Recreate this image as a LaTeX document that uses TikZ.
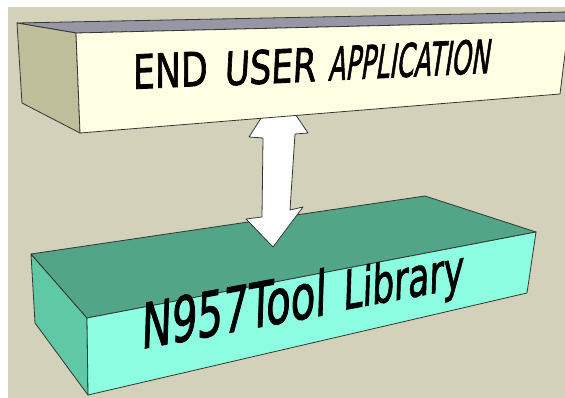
\documentclass[tikz,border=0pt]{standalone}
\usepackage{fontspec}
\setmainfont{DejaVu Sans}
\newfontfamily\heavysans[FakeBold=1.8]{DejaVu Sans}
\definecolor{bgc}{RGB}{211,209,186}
\definecolor{appfront}{RGB}{255,255,228}
\definecolor{appside}{RGB}{190,190,155}
\definecolor{apptop}{RGB}{150,150,165}
\definecolor{libfront}{RGB}{140,253,224}
\definecolor{libside}{RGB}{95,200,165}
\definecolor{libtop}{RGB}{82,165,135}
\definecolor{edge}{RGB}{50,55,50}
\tikzset{
  face/.style={draw=edge, line width=0.8pt, line join=round},
  apptext/.style={anchor=base west, inner sep=0pt, text=black},
  libtext/.style={anchor=base west, inner sep=0pt, text=black},
}
\begin{document}
\begin{tikzpicture}[x=1pt,y=-1pt]
\useasboundingbox (0,0) rectangle (565,398);
\fill[white] (0,0) rectangle (565,398);
\fill[bgc] (8,7) rectangle (565,398);
% lower box
\coordinate (lbl) at (31,254);
\coordinate (lbf) at (425,196);
\coordinate (lbr) at (536,232);
\coordinate (lfl) at (87,318);
\coordinate (lflb) at (88,395);
\coordinate (lfrb) at (527,293);
\coordinate (lblb) at (35,323);
\filldraw[face, fill=libside] (lbl) -- (lfl) -- (lflb) -- (lblb) -- cycle;
\filldraw[face, fill=libtop] (lbl) -- (lbf) -- (lbr) -- (lfl) -- cycle;
\filldraw[face, fill=libfront] (lfl) -- (lbr) -- (lfrb) -- (lflb) -- cycle;
\node[libtext, font=\heavysans\fontsize{61}{63}\selectfont, rotate=10.5, xslant=0.22, xscale=0.67] (lib1) at (141,349) {N957Tool};
\node[libtext, font=\heavysans\fontsize{53}{55}\selectfont, rotate=10.5, xslant=0.22, xscale=0.66] (lib2) at (343,310) {Library};
% arrow
\coordinate (tip1) at (279,90);
\coordinate (w1l) at (249,137);
\coordinate (s1l) at (263,138);
\coordinate (s2l) at (262,217);
\coordinate (w2l) at (246,219);
\coordinate (tip2) at (273,247);
\coordinate (w2r) at (303,207);
\coordinate (s2r) at (290,210);
\coordinate (s1r) at (295,134);
\coordinate (w1r) at (308,133);
\filldraw[face, fill=white] (tip1) -- (w1l) -- (s1l) -- (s2l) -- (w2l) -- (tip2) -- (w2r) -- (s2r) -- (s1r) -- (w1r) -- cycle;
% upper box
\coordinate (tbl) at (17,23);
\coordinate (tbr) at (569,12);
\coordinate (tfl) at (76,33);
\coordinate (tfr) at (569,21);
\coordinate (tflb) at (80,133);
\coordinate (tfrb) at (560,94);
\coordinate (tblb) at (22,103);
\filldraw[face, fill=apptop] (tbl) -- (tbr) -- (tfr) -- (tfl) -- cycle;
\filldraw[face, fill=appside] (tbl) -- (tfl) -- (tflb) -- (tblb) -- cycle;
\filldraw[face, fill=appfront] (tfl) -- (tfr) -- (tfrb) -- (tflb) -- cycle;
\node[apptext, font=\heavysans\fontsize{47}{50}\selectfont, rotate=2.7, xslant=0.04, xscale=0.74] (app1) at (133,89) {END};
\node[apptext, font=\heavysans\fontsize{46}{48}\selectfont, rotate=2.7, xslant=0.1, xscale=0.74] (app2) at (224,85.5) {USER};
\node[apptext, font=\heavysans\fontsize{46}{48}\selectfont, rotate=2.7, xslant=0.2, xscale=0.54] (app3) at (328,80.5) {APPLICATION};
\end{tikzpicture}
\end{document}
